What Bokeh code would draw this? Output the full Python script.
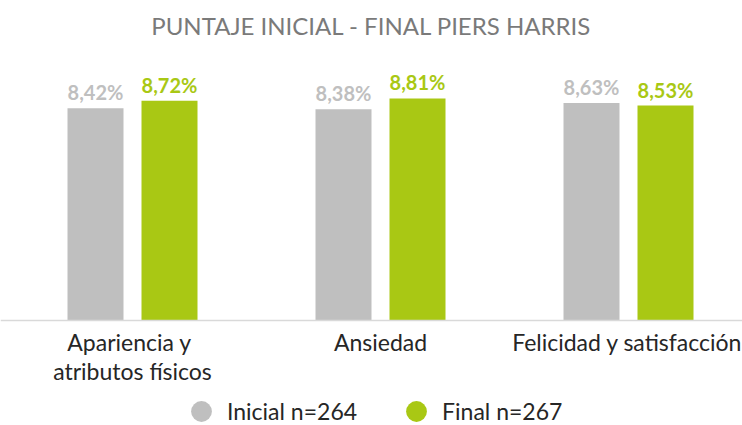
from bokeh.plotting import figure
from bokeh.models import ColumnDataSource, FixedTicker, Range1d, Legend, LegendItem
from bokeh.core.properties import value
from bokeh.embed import file_html
from bokeh.resources import INLINE

# ---- data ----
categories = ["Apariencia  y\natributos físicos", "Ansiedad", "Felicidad y satisfacción"]
inicial = [8.42, 8.38, 8.63]
final = [8.72, 8.81, 8.53]
inicial_labels = ["8,42%", "8,38%", "8,63%"]
final_labels = ["8,72%", "8,81%", "8,53%"]
legend_labels = ["Inicial n=264", "Final n=267"]
title_text = "PUNTAJE INICIAL - FINAL PIERS HARRIS"

GREY = "#BFBFBF"
GREEN = "#A9C814"
FONT = "Lato"

W, H = 742, 425
TOP = 47
AXIS_Y = 320
UNIT_PX = 248.0
PX_PER_VAL = 25.2
x0 = 0.5 - 132 / UNIT_PX

p = figure(width=W, height=H, output_backend="svg", toolbar_location=None,
           x_range=Range1d(x0, x0 + W / UNIT_PX),
           y_range=Range1d(-(H - AXIS_Y) / PX_PER_VAL, (AXIS_Y - TOP) / PX_PER_VAL),
           min_border_left=0, min_border_right=0,
           min_border_top=TOP, min_border_bottom=0,
           title=title_text)
p.outline_line_color = None
p.grid.visible = False
p.yaxis.visible = False

p.title.text_font = FONT
p.title.text_font_size = "24px"
p.title.text_font_style = "normal"
p.title.text_color = "#7A7A7A"
p.title.align = "center"
p.title.standoff = 16
p.title.offset = 7

centers = [i + 0.5 for i in range(len(categories))]
off = 37 / UNIT_PX
bw = 56 / UNIT_PX

src_i = ColumnDataSource(dict(x=[c - off for c in centers], top=inicial, lab=inicial_labels))
src_f = ColumnDataSource(dict(x=[c + off for c in centers], top=final, lab=final_labels))

p.vbar(x="x", top="top", bottom=0, width=bw, source=src_i, fill_color=GREY, line_color=None)
p.vbar(x="x", top="top", bottom=0, width=bw, source=src_f, fill_color=GREEN, line_color=None)

for src, col in ((src_i, GREY), (src_f, GREEN)):
    p.text(x="x", y="top", text="lab", source=src, text_font=value(FONT),
           text_font_size="20px", text_font_style="bold", text_color=col,
           text_align="center", text_baseline="alphabetic", y_offset=-16)

ax = p.xaxis[0]
ax.fixed_location = 0
ax.ticker = FixedTicker(ticks=centers)
ax.major_label_overrides = {c: lab for c, lab in zip(centers, categories)}
ax.axis_line_color = "#D9D9D9"
ax.axis_line_width = 1.5
ax.major_tick_line_color = None
ax.minor_tick_line_color = None
ax.major_tick_out = 0
ax.major_tick_in = 0
ax.major_label_text_font = FONT
ax.major_label_text_font_size = "23px"
ax.major_label_text_color = "#262626"
ax.major_label_text_line_height = 1.07
ax.major_label_standoff = 7

# legend
r1 = p.scatter(x=[-5], y=[-50], marker="circle", fill_color=GREY, line_color=None)
r2 = p.scatter(x=[-5], y=[-50], marker="circle", fill_color=GREEN, line_color=None)
legend = Legend(items=[LegendItem(label=legend_labels[0], renderers=[r1]),
                       LegendItem(label=legend_labels[1], renderers=[r2])],
                orientation="horizontal", location=(175, -12),
                glyph_width=52, glyph_height=52, label_standoff=0, spacing=33,
                padding=0, margin=0, border_line_color=None,
                background_fill_alpha=0,
                label_text_font=FONT, label_text_font_size="23px",
                label_text_color="#262626", label_height=52)
p.add_layout(legend, "center")

open("out.html", "w").write(file_html(p, INLINE))
